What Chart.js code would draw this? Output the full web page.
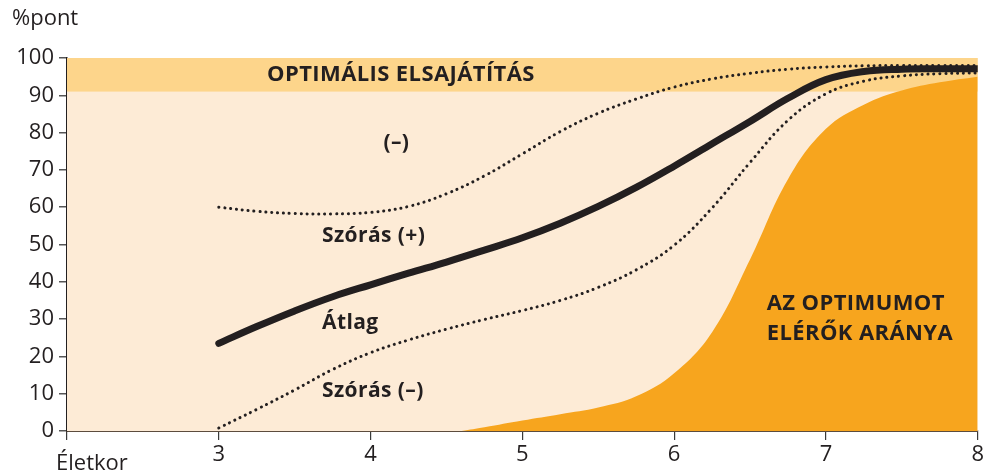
<!DOCTYPE html>
<html>
<head>
<meta charset="utf-8">
<script src="https://cdn.jsdelivr.net/npm/chart.js@4"></script>
<style>
  html, body { margin: 0; padding: 0; background: #fff; }
  #wrap { width: 986px; height: 475px; position: relative; }
</style>
</head>
<body>
<div id="wrap"><canvas id="chart" width="986" height="475"></canvas></div>
<script>
// ages (x) and values
const ages      = [3, 3.25, 3.5, 3.75, 4, 4.25, 4.5, 4.75, 5, 5.25, 5.5, 5.75, 6, 6.25, 6.5, 6.75, 7, 7.25, 7.5, 7.75, 8];
const meanVals  = [23.5, 28, 32.2, 36, 39.2, 42.3, 45.3, 48.5, 51.8, 55.7, 60.2, 65.3, 71, 77, 83, 89.2, 94.2, 96.4, 97, 97.1, 97.1];
const upperVals = [60, 58.9, 58.3, 58.2, 58.6, 60.2, 63.6, 68.4, 74.3, 80.3, 85.2, 89, 92.2, 94.4, 95.9, 97, 97.6, 97.9, 98, 98, 98];
const lowerVals = [0.8, 5.8, 11, 16.5, 21, 24.4, 27.3, 29.9, 32.3, 35, 38.5, 43.2, 49.8, 59.8, 72, 83.3, 90.4, 93.8, 95.2, 95.8, 96];

const shareAges = [4.6, 4.75, 5, 5.25, 5.5, 5.75, 6, 6.25, 6.5, 6.75, 7, 7.25, 7.5, 7.75, 8];
const shareVals = [0, 1, 2.8, 4.5, 6.3, 9.3, 15.5, 26.5, 46, 67.5, 81, 87.5, 91.3, 93.5, 95];

const optimalBand = [91, 100];
const xTicks = [2, 3, 4, 5, 6, 7, 8];

const ink = '#231F20';
const toPts = (xs, ys) => xs.map((x, i) => ({ x: x, y: ys[i] }));

// background band + annotation texts
const decor = {
  id: 'decor',
  beforeDatasetsDraw(chart) {
    const { ctx, chartArea: a, scales: { y } } = chart;
    ctx.save();
    ctx.fillStyle = '#FDEBD6';
    ctx.fillRect(a.left, a.top, a.right - a.left, a.bottom - a.top);
    const yTop = y.getPixelForValue(optimalBand[1]);
    const yBot = y.getPixelForValue(optimalBand[0]);
    ctx.fillStyle = '#FDD58B';
    ctx.fillRect(a.left, yTop, a.right - a.left, yBot - yTop);
    ctx.restore();
  },
  afterDatasetsDraw(chart) {
    const { ctx, scales: { x, y } } = chart;
    ctx.save();
    ctx.fillStyle = ink;
    ctx.textBaseline = 'middle';
    ctx.letterSpacing = '0.4px';
    ctx.font = 'bold 22px "Open Sans"';
    ctx.textAlign = 'center';
    ctx.fillText('OPTIMÁLIS ELSAJÁTÍTÁS', x.getPixelForValue(4.2), y.getPixelForValue(95.6));
    ctx.font = 'bold 21px "Open Sans"';
    ctx.fillText('(–)', x.getPixelForValue(4.17), y.getPixelForValue(77.3));
    ctx.textAlign = 'left';
    ctx.fillText('Szórás (+)', x.getPixelForValue(3.68), y.getPixelForValue(52.3));
    ctx.fillText('Átlag', x.getPixelForValue(3.68), y.getPixelForValue(29));
    ctx.fillText('Szórás (–)', x.getPixelForValue(3.68), y.getPixelForValue(10.7));
    ctx.font = 'bold 22px "Open Sans"';
    ctx.fillText('AZ OPTIMUMOT', x.getPixelForValue(6.61), y.getPixelForValue(34));
    ctx.fillText('ELÉRŐK ARÁNYA', x.getPixelForValue(6.61), y.getPixelForValue(26));
    ctx.restore();
  },
  afterDraw(chart) {
    const { ctx } = chart;
    ctx.save();
    ctx.fillStyle = ink;
    ctx.font = '22px "Open Sans"';
    ctx.textBaseline = 'middle';
    ctx.textAlign = 'left';
    ctx.fillText('%pont', 12, 19);
    ctx.fillText('Életkor', 56, 464);
    ctx.restore();
  }
};

const dotted = {
  borderColor: ink,
  borderWidth: 3,
  borderDash: [0.1, 5.8],
  borderCapStyle: 'round',
  pointRadius: 0,
  fill: false,
  tension: 0.4
};

new Chart(document.getElementById('chart'), {
  type: 'line',
  data: {
    datasets: [
      {
        label: 'Átlag',
        data: toPts(ages, meanVals),
        borderColor: ink,
        borderWidth: 7,
        borderCapStyle: 'round',
        pointRadius: 0,
        fill: false,
        tension: 0.4
      },
      Object.assign({ label: 'Szórás (+)', data: toPts(ages, upperVals) }, dotted),
      Object.assign({ label: 'Szórás (–)', data: toPts(ages, lowerVals) }, dotted),
      {
        label: 'Az optimumot elérők aránya',
        data: toPts(shareAges, shareVals),
        borderWidth: 0,
        borderColor: 'rgba(0,0,0,0)',
        backgroundColor: '#F7A51E',
        pointRadius: 0,
        fill: 'origin',
        tension: 0.4
      }
    ]
  },
  options: {
    responsive: false,
    animation: false,
    layout: { padding: { top: 58, right: 7, left: 0, bottom: 0 } },
    plugins: {
      legend: { display: false },
      tooltip: { enabled: false }
    },
    scales: {
      x: {
        type: 'linear',
        min: 2,
        max: 8,
        afterBuildTicks(scale) { scale.ticks = xTicks.map(v => ({ value: v })); },
        afterFit(scale) { scale.height = 44; },
        ticks: {
          color: ink,
          font: { family: 'Open Sans', size: 22 },
          padding: 2,
          maxRotation: 0,
          callback: v => (v === 2 ? '' : v)
        },
        grid: { drawOnChartArea: false, tickLength: 9, color: '#3a3a3a', lineWidth: 1.2 },
        border: { color: '#5C4C3E', width: 2 }
      },
      y: {
        min: 0,
        max: 100,
        afterFit(scale) { scale.width = 67; },
        ticks: {
          stepSize: 10,
          color: ink,
          font: { family: 'Open Sans', size: 22 },
          padding: 5
        },
        grid: { drawOnChartArea: false, tickLength: 8, color: '#555', lineWidth: 1.5 },
        border: { color: ink, width: 1.5 }
      }
    }
  },
  plugins: [decor]
});
</script>
</body>
</html>
